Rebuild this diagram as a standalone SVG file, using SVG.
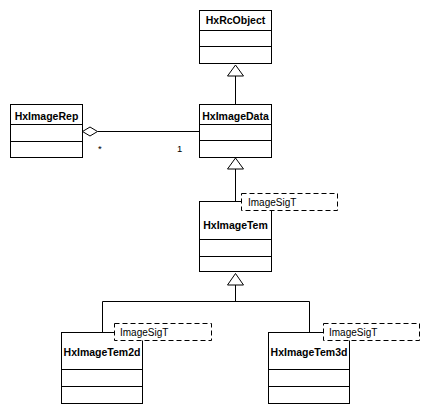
<svg xmlns="http://www.w3.org/2000/svg" width="429" height="414" viewBox="0 0 429 414">
<style>
.box{fill:#fff;stroke:#000;stroke-width:1}
.sep{stroke:#000;stroke-width:1}
.name{font-family:"Liberation Sans",Arial,sans-serif;font-weight:bold;font-size:10.5px;text-anchor:middle;fill:#000}
.tmpl{fill:#fff;stroke:#000;stroke-width:1;stroke-dasharray:5,3}
.tt{font-family:"Liberation Sans",Arial,sans-serif;font-size:10px;fill:#000}
.mult{font-family:"Liberation Sans",Arial,sans-serif;font-size:9.5px;fill:#000}
.ln{fill:none;stroke:#000;stroke-width:1}
.tri{fill:#fff;stroke:#000;stroke-width:1}
</style>
<rect width="429" height="414" fill="#fff"/>
<g id="connectors">
<path class="ln" d="M235.5 76 V104.5"/>
<polygon class="tri" points="235.5,65 227.5,76 243.5,76"/>
<path class="ln" d="M235.5 169 V201.5"/>
<polygon class="tri" points="235.5,158 227.5,169 243.5,169"/>
<path class="ln" d="M235.5 285 V301.5 M102.5 332.5 V301.5 H309.5 V332.5"/>
<polygon class="tri" points="235.5,273.5 227.5,285 243.5,285"/>
<path class="ln" d="M97.5 131.5 H199.5"/>
<polygon class="tri" points="82.5,131.5 90,127 97.5,131.5 90,136"/>
<text class="mult" x="98" y="152">*</text>
<text class="mult" x="177" y="152">1</text>
</g>
<g id="HxRcObject">
<rect class="box" x="199.5" y="10.5" width="72" height="53"/>
<path class="sep" d="M199.5 30.5 H271.5 M199.5 46.5 H271.5"/>
<text class="name" x="235.5" y="24">HxRcObject</text>
</g>
<g id="HxImageData">
<rect class="box" x="199.5" y="104.5" width="72" height="53"/>
<path class="sep" d="M199.5 124.5 H271.5 M199.5 140.5 H271.5"/>
<text class="name" x="235.5" y="120">HxImageData</text>
</g>
<g id="HxImageRep">
<rect class="box" x="10.5" y="104.5" width="72" height="53"/>
<path class="sep" d="M10.5 124.5 H82.5 M10.5 141.5 H82.5"/>
<text class="name" x="46.5" y="119.5">HxImageRep</text>
</g>
<g id="HxImageTem">
<rect class="box" x="199.5" y="201.5" width="72" height="70"/>
<path class="sep" d="M199.5 239.5 H271.5 M199.5 256.5 H271.5"/>
<text class="name" x="235.5" y="229">HxImageTem</text>
<rect class="tmpl" x="241.5" y="193.5" width="96" height="17"/>
<text class="tt" x="248" y="205.5">ImageSigT</text>
</g>
<g id="HxImageTem2d">
<rect class="box" x="61.5" y="332.5" width="81" height="71"/>
<path class="sep" d="M61.5 369.5 H142.5 M61.5 386.5 H142.5"/>
<text class="name" x="102" y="356">HxImageTem2d</text>
<rect class="tmpl" x="114.5" y="323.5" width="97" height="17"/>
<text class="tt" x="120" y="335.5">ImageSigT</text>
</g>
<g id="HxImageTem3d">
<rect class="box" x="268.5" y="332.5" width="81" height="71"/>
<path class="sep" d="M268.5 369.5 H349.5 M268.5 386.5 H349.5"/>
<text class="name" x="309" y="356">HxImageTem3d</text>
<rect class="tmpl" x="323.5" y="323.5" width="96" height="17"/>
<text class="tt" x="329" y="335.5">ImageSigT</text>
</g>
</svg>
